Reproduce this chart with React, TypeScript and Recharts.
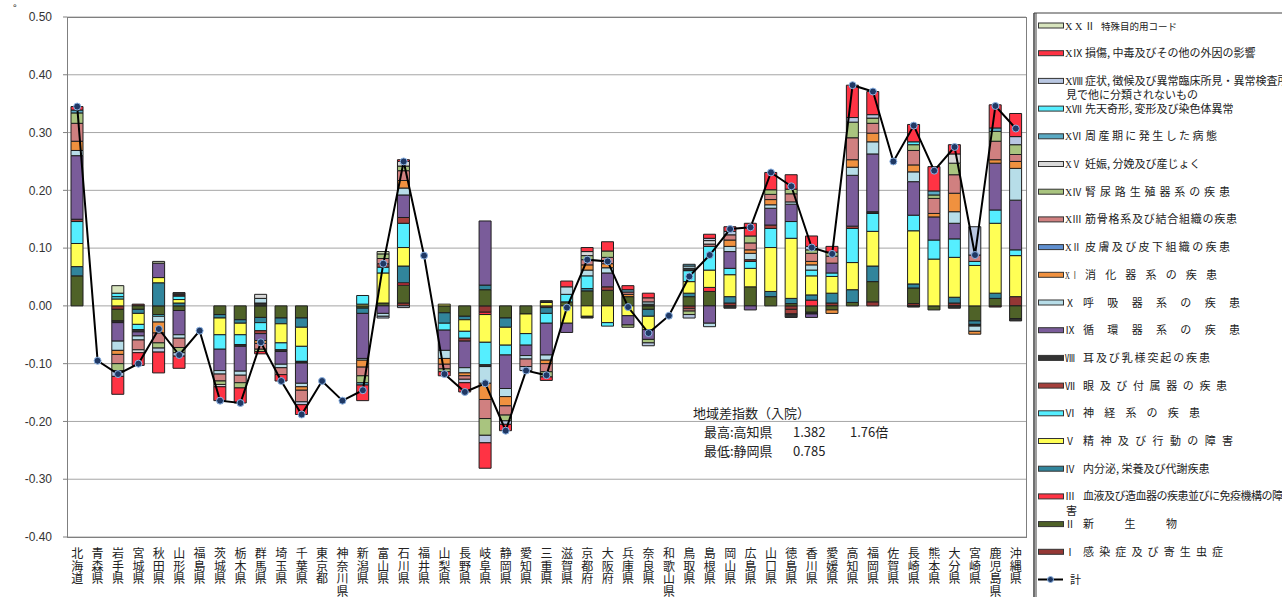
import React from 'react';
import { ComposedChart, Bar, Line, XAxis, YAxis, CartesianGrid } from 'recharts';

const prefectures = [
  '北海道', '青森県', '岩手県', '宮城県', '秋田県', '山形県', '福島県', '茨城県', '栃木県', '群馬県',
  '埼玉県', '千葉県', '東京都', '神奈川県', '新潟県', '富山県', '石川県', '福井県', '山梨県', '長野県',
  '岐阜県', '静岡県', '愛知県', '三重県', '滋賀県', '京都府', '大阪府', '兵庫県', '奈良県', '和歌山県',
  '鳥取県', '島根県', '岡山県', '広島県', '山口県', '徳島県', '香川県', '愛媛県', '高知県', '福岡県',
  '佐賀県', '長崎県', '熊本県', '大分県', '宮崎県', '鹿児島県', '沖縄県',
];

// 疾病分類別の寄与（10県ずつ）
const cI = [
  0, 0, -0.006, 0.003, 0, 0, 0, 0, 0, 0,
  0, 0, 0, 0, 0, 0, 0.005, 0, 0, 0,
  -0.011, 0, 0, -0.003, 0, 0, 0, 0, 0, 0,
  -0.005, 0, 0.005, 0, 0, -0.006, 0, 0.005, 0, 0.007,
  0, 0.004, 0, 0.005, 0, -0.002, 0.016,
];
const cII = [
  0.052, 0, -0.02, -0.006, -0.015, -0.008, 0, -0.015, -0.024, -0.02,
  -0.021, -0.021, 0, 0, -0.004, 0.005, 0.031, 0, -0.012, -0.018,
  0.028, -0.021, -0.014, 0, 0.007, 0.026, 0.027, 0.016, -0.006, 0,
  0.016, 0.025, 0, 0.033, 0.016, 0.004, -0.011, -0.007, 0.006, 0.035,
  0, 0.027, -0.007, 0, -0.026, 0.013, -0.022,
];
const cIII = [
  0, 0, 0, 0, 0, 0, 0, 0, 0, 0,
  0, 0, 0, 0, 0, 0, 0.004, 0, 0, 0,
  -0.004, 0, 0, 0, 0, 0, 0, 0, 0, 0,
  0, 0.007, 0, 0, 0, 0, 0.01, 0, 0, 0,
  0, 0, 0, 0, 0, 0, 0,
];
const cIV = [
  0.016, 0, 0, -0.007, 0.04, 0.005, 0, -0.006, -0.006, -0.009,
  -0.01, -0.016, 0, 0, -0.009, 0, 0.029, 0, -0.018, -0.006,
  0.008, -0.016, 0, -0.01, 0, 0.004, 0, 0, -0.012, 0,
  0.006, 0, 0.011, 0, 0.009, 0.009, 0.009, 0.017, 0.022, 0.027,
  0, 0.007, 0, 0.01, -0.006, 0.009, 0,
];
const cV = [
  0.04, 0, 0.012, -0.019, 0.009, 0.006, 0, -0.029, -0.02, 0,
  -0.033, -0.033, 0, 0, 0.003, 0.052, 0.032, 0, 0.003, -0.02,
  -0.048, -0.031, -0.034, 0.006, -0.03, -0.018, -0.029, -0.017, -0.023, 0,
  0.02, 0.03, 0.038, 0.032, 0.076, 0.104, 0.033, 0.029, 0.047, 0.06,
  0, 0.092, 0.081, 0.069, 0.07, 0.121, 0.071,
];
const cVI = [
  0.038, 0, 0.004, -0.009, -0.003, 0.006, 0, -0.025, -0.017, -0.014,
  -0.012, -0.026, 0, 0, 0.015, 0.01, 0.042, 0, -0.012, -0.012,
  -0.039, -0.017, -0.02, -0.017, 0.013, 0.022, -0.006, 0, 0, 0,
  0.019, 0.041, 0.011, 0.012, 0.033, 0.029, 0.01, 0.006, 0.059, 0.031,
  0, 0.027, 0.033, 0.032, 0.007, 0.023, 0.01,
];
const cVII = [
  0.004, 0, 0, 0, 0, 0.002, 0, 0, 0, -0.005,
  0, 0, 0, 0, 0, 0.006, 0.01, 0, 0, -0.005,
  0, 0, 0, 0, 0, 0, 0.006, 0, 0, 0,
  0, 0, 0, 0.003, 0.006, -0.008, 0, 0, 0.004, 0,
  0, 0, 0, 0, 0, 0, 0,
];
const cVIII = [
  0, 0, -0.003, -0.004, 0, 0.004, 0, 0, -0.003, 0.005,
  -0.003, -0.003, 0, 0, 0, 0, 0, 0, 0, 0,
  -0.003, 0, 0, 0.003, 0, -0.003, 0, 0, 0.003, 0,
  0.004, 0, -0.004, 0, 0, -0.006, -0.003, 0, 0, 0.003,
  0, -0.002, 0, -0.004, -0.003, 0, -0.004,
];
const cIX = [
  0.11, 0, -0.032, -0.007, 0.025, -0.042, 0, -0.037, -0.043, -0.012,
  -0.022, -0.035, 0, 0, -0.078, -0.013, 0.039, 0, -0.035, -0.046,
  0.111, -0.058, -0.018, -0.055, -0.016, 0, 0.024, -0.016, -0.017, 0,
  0, -0.03, 0.029, -0.007, 0.029, 0.03, -0.006, 0.017, 0.088, 0.1,
  0, 0.058, 0.04, 0.027, 0, 0.081, 0.086,
];
const cX = [
  0.009, 0, -0.016, -0.007, -0.01, -0.006, 0, -0.006, -0.007, 0.008,
  -0.006, -0.006, 0, 0, -0.003, -0.005, 0.012, 0, -0.014, -0.009,
  -0.029, -0.014, -0.006, -0.009, 0.013, 0.01, 0.009, 0, 0.004, 0,
  0.004, -0.006, 0.009, 0.011, 0.006, 0.004, 0.009, 0, 0.014, 0.021,
  0, 0.017, 0, 0.02, -0.009, 0, 0.055,
];
const cXI = [
  0.016, 0, -0.007, 0, -0.019, 0, 0, 0, 0, -0.005,
  0, -0.006, 0, 0, -0.012, 0, 0.013, 0, -0.01, -0.005,
  -0.028, -0.016, 0, -0.006, 0, 0.009, 0.007, 0.004, 0, 0,
  0, 0, 0.011, 0.006, 0.009, 0, 0.006, -0.006, 0.013, 0.015,
  0, 0.012, 0.006, 0.032, -0.005, 0.006, 0.012,
];
const cXII = [
  0, 0, 0, 0, 0, 0, 0, 0, 0, 0,
  0, 0, 0, 0, 0, 0, 0, 0, 0, 0,
  0, 0, 0, 0, 0, 0, 0, 0, 0, 0,
  0, 0, 0, 0, 0, 0, 0, 0, 0, 0,
  0, 0, 0, 0, 0, 0, 0,
];
const cXIII = [
  0.031, 0, -0.016, -0.017, -0.017, -0.016, 0, -0.012, -0.013, -0.01,
  -0.012, -0.02, 0, 0, -0.015, 0.009, 0.017, 0, -0.008, -0.006,
  -0.033, -0.016, -0.013, -0.014, 0, 0.009, 0.011, 0.004, 0.007, 0,
  -0.004, 0.004, 0.009, 0.012, 0.009, 0.014, 0.014, 0.012, 0.038, 0.017,
  0, 0.025, 0.026, 0.032, 0.011, 0.032, 0.012,
];
const cXIV = [
  0.018, 0, -0.012, 0, -0.009, -0.009, 0, -0.006, -0.009, -0.004,
  0, 0, 0, 0, -0.012, 0.008, 0.008, 0, -0.005, 0,
  -0.029, -0.01, 0, -0.009, 0, 0.007, 0.011, -0.004, -0.006, 0,
  -0.006, 0, 0, 0.012, 0.008, 0.008, 0.006, 0.007, 0.027, 0.009,
  0, 0.01, 0.006, 0.02, 0, 0.017, 0.017,
];
const cXV = [
  0, 0, 0, -0.005, 0, 0, 0, -0.004, 0, 0.007,
  0, 0, 0, 0, 0, 0, 0.008, 0, 0, 0,
  0, 0, 0, 0, 0, 0.007, 0, 0, 0, 0,
  0, 0.006, 0, 0, 0, 0, 0, 0, 0, 0,
  0, 0, 0, 0.016, 0, 0, 0,
];
const cXVI = [
  0.005, 0, 0, 0, 0, 0, 0, 0, 0, 0,
  0, 0, 0, 0, -0.004, 0, 0, 0, 0, 0,
  0, 0, 0, 0, 0, 0, 0, 0.004, 0, 0,
  0.003, 0, 0, 0, 0, 0, 0, 0, 0, 0,
  0, 0, 0.007, 0, 0, 0.006, 0,
];
const cXVII = [
  0, 0, 0.006, 0, 0, 0, 0, 0, 0, 0,
  0, 0, 0, 0, 0, 0, 0, 0, 0, 0,
  0, 0, 0, 0, 0, 0, 0, 0, 0, 0,
  0, 0, 0, 0, 0, 0, 0, 0, 0, 0,
  0, 0.005, 0, 0, 0, 0, 0,
];
const cXVIII = [
  0, 0, -0.01, 0, -0.007, -0.006, 0, 0, 0, 0,
  0, -0.005, 0, 0, 0, -0.003, -0.003, 0, 0, -0.006,
  -0.013, -0.006, -0.007, 0, 0, 0, 0, 0, -0.005, 0,
  -0.006, 0.004, 0.006, 0, 0, 0, 0.006, 0, 0.008, 0.006,
  0, 0, 0, 0, 0.049, 0, 0.014,
];
const cXIX = [
  0.006, 0, -0.031, -0.022, -0.036, -0.021, 0, -0.024, -0.026, -0.004,
  -0.011, -0.017, 0, 0, -0.027, 0, 0.003, 0, -0.007, -0.016,
  -0.044, -0.011, 0, -0.006, 0.01, 0.007, 0.016, 0.007, 0.008, 0,
  0, 0.007, 0.008, 0.022, 0.03, 0.025, 0.018, 0.01, 0.056, 0.04,
  0, 0.03, 0.042, 0.016, 0, 0.04, 0.04,
];
const cXXII = [
  0, 0, 0.013, 0, 0.003, 0, 0, 0, 0, 0,
  0, 0, 0, 0, 0, 0.004, 0, 0, 0, 0,
  0, 0, 0, 0, 0, 0, 0, 0, 0, 0,
  0, 0, 0, 0, 0, 0, 0, 0, 0, 0,
  0, 0, 0, 0, 0, 0, 0,
];

// 計（地域差指数 − 1）
const totals = [
  0.345, -0.095, -0.118, -0.1, -0.04, -0.085, -0.043, -0.164, -0.168, -0.063,
  -0.13, -0.188, -0.13, -0.164, -0.146, 0.073, 0.25, 0.087, -0.118, -0.149,
  -0.134, -0.216, -0.112, -0.12, -0.003, 0.08, 0.077, -0.002, -0.047, -0.017,
  0.051, 0.088, 0.133, 0.136, 0.231, 0.207, 0.101, 0.09, 0.382, 0.371,
  0.25, 0.312, 0.234, 0.275, 0.088, 0.346, 0.307,
];

const yTicks = [-0.4, -0.3, -0.2, -0.1, 0, 0.1, 0.2, 0.3, 0.4, 0.5];

// stacking order: Ⅰ at the bottom, ⅩⅩⅡ on top
// pre = roman prefix, preLen = squeezed prefix width, bx = body x in legend, len = justified body width
const series = [
  { key: 'I', values: cI, color: '#953735', pre: 'Ⅰ', bx: 53, body: '感染症及び寄生虫症', len: 140 },
  { key: 'II', values: cII, color: '#4f6228', pre: 'Ⅱ', bx: 53, body: '新生物', len: 94 },
  { key: 'III', values: cIII, color: '#ff3344', pre: 'Ⅲ', bx: 53, body: '血液及び造血器の疾患並びに免疫機構の障', len: 200, line2: '害' },
  { key: 'IV', values: cIV, color: '#31859c', pre: 'Ⅳ', bx: 53, body: '内分泌, 栄養及び代謝疾患' },
  { key: 'V', values: cV, color: '#ffff55', pre: 'Ⅴ', bx: 53, body: '精神及び行動の障害', len: 150 },
  { key: 'VI', values: cVI, color: '#55eeff', pre: 'Ⅵ', bx: 53, body: '神経系の疾患', len: 117 },
  { key: 'VII', values: cVII, color: '#a5403c', pre: 'Ⅶ', bx: 53, body: '眼及び付属器の疾患', len: 144 },
  { key: 'VIII', values: cVIII, color: '#333333', pre: 'Ⅷ', bx: 53, body: '耳及び乳様突起の疾患', len: 127 },
  { key: 'IX', values: cIX, color: '#7a5c9a', pre: 'Ⅸ', bx: 53, body: '循環器系の疾患', len: 157 },
  { key: 'X', values: cX, color: '#b7dde8', pre: 'Ⅹ', bx: 53, body: '呼吸器系の疾患', len: 157 },
  { key: 'XI', values: cXI, color: '#f0913f', pre: 'X Ⅰ', preLen: 13, bx: 55, body: '消化器系の疾患', len: 132 },
  { key: 'XII', values: cXII, color: '#5f8fd0', pre: 'XⅡ', preLen: 16, bx: 55, body: '皮膚及び皮下組織の疾患', len: 145 },
  { key: 'XIII', values: cXIII, color: '#d08080', pre: 'XⅢ', preLen: 17, bx: 55, body: '筋骨格系及び結合組織の疾患', len: 152 },
  { key: 'XIV', values: cXIV, color: '#a9c47f', pre: 'XⅣ', preLen: 17, bx: 55, body: '腎尿路生殖器系の疾患', len: 145 },
  { key: 'XV', values: cXV, color: '#d9d9d9', pre: 'XⅤ', preLen: 16, bx: 55, body: '妊娠, 分娩及び産じょく' },
  { key: 'XVI', values: cXVI, color: '#5aaac4', pre: 'XⅥ', preLen: 17, bx: 55, body: '周産期に発生した病態', len: 132 },
  { key: 'XVII', values: cXVII, color: '#55eeff', pre: 'XⅦ', preLen: 17, bx: 55, body: '先天奇形, 変形及び染色体異常' },
  { key: 'XVIII', values: cXVIII, color: '#b9c7e2', pre: 'XⅧ', preLen: 18, bx: 55, body: '症状, 徴候及び異常臨床所見・異常検査所', line2: '見で他に分類されないもの' },
  { key: 'XIX', values: cXIX, color: '#ff3344', pre: 'XⅨ', preLen: 18, bx: 55, body: '損傷, 中毒及びその他の外因の影響' },
  { key: 'XXII', values: cXXII, color: '#d7e4bd', pre: 'X X Ⅱ', preLen: 30, bx: 71, body: '特殊目的用コード', fs: 9.5 },
];

const data = prefectures.map((name, i) => {
  const row: Record<string, any> = { name, total: totals[i] };
  series.forEach((s) => { row[s.key] = s.values[i]; });
  return row;
});

const CJK = "'Noto Sans CJK JP', 'Noto Sans', sans-serif";
const SERIF = "'Liberation Serif', 'Noto Sans CJK JP', serif";

const PrefTick = (props: any) => {
  const { x, y, payload } = props;
  const chars = Array.from(String(payload.value));
  return (
    <text textAnchor="middle" fontSize={12} fill="#222" fontFamily={CJK}>
      {chars.map((c, i) => (
        <tspan key={i} x={x} y={y + 13 + i * 12.5}>{c}</tspan>
      ))}
    </text>
  );
};

const Legend = () => {
  const items = [...series].reverse();
  return (
    <svg width={252} height={597} style={{ position: 'absolute', left: 1030, top: 0 }}>
      <line x1={4} y1={13} x2={252} y2={13} stroke="#404040" strokeWidth={1} />
      <line x1={4} y1={13} x2={4} y2={597} stroke="#404040" strokeWidth={1.5} />
      <line x1={6} y1={13} x2={6} y2={597} stroke="#404040" strokeWidth={1} />
      {items.map((s, i) => {
        const cy = 25.5 + i * 27.7;
        return (
          <g key={s.key}>
            <rect x={8.5} y={cy - 2.5} width={25} height={5} fill={s.color} stroke="#333" strokeWidth={1} />
            <text
              x={35}
              y={cy + 4}
              fontSize={10}
              fill="#222"
              fontFamily={SERIF}
              {...(s.preLen ? { textLength: s.preLen, lengthAdjust: 'spacingAndGlyphs' } : {})}
            >
              {s.pre}
            </text>
            <text
              x={s.bx}
              y={cy + 4}
              fontSize={s.fs ?? 11}
              fill="#222"
              fontFamily={CJK}
              {...(s.len ? { textLength: s.len, lengthAdjust: 'spacing' } : {})}
            >
              {s.body}
            </text>
            {s.line2 && (
              <text x={36} y={cy + 18.5} fontSize={11} fill="#222" fontFamily={CJK}>{s.line2}</text>
            )}
          </g>
        );
      })}
      <line x1={8} y1={579.5} x2={33} y2={579.5} stroke="#000" strokeWidth={2} />
      <circle cx={20.5} cy={579.5} r={3} fill="#1f3864" stroke="#8eb4e3" strokeWidth={1} />
      <text x={40} y={583.5} fontSize={11} fill="#222" fontFamily={CJK}>計</text>
    </svg>
  );
};

const note: React.CSSProperties = { position: 'absolute', fontSize: 13, lineHeight: '18px', color: '#222', fontFamily: CJK, whiteSpace: 'nowrap' };

export default function App() {
  return (
    <div style={{ position: 'absolute', left: 0, top: 0, width: 1282, height: 597, background: '#fff', overflow: 'hidden' }}>
      <span style={{ position: 'absolute', left: 13, top: 0, fontSize: 10, color: '#333', fontFamily: CJK }}>°</span>
      <ComposedChart
        width={1030}
        height={597}
        data={data}
        stackOffset="sign"
        barSize={12}
        margin={{ top: 17, right: 4, bottom: 0, left: 0 }}
      >
        <CartesianGrid vertical={false} stroke="#a6a6a6" />
        <XAxis
          dataKey="name"
          interval={0}
          height={60}
          axisLine={false}
          tickLine={false}
          tick={<PrefTick />}
        />
        <YAxis
          domain={[-0.4, 0.5]}
          ticks={yTicks}
          allowDataOverflow
          width={67}
          axisLine={false}
          tickLine={{ stroke: '#808080' }}
          tickSize={4}
          tickMargin={11}
          tickFormatter={(v: number) => v.toFixed(2)}
          tick={{ fontSize: 12, fill: '#333', fontFamily: "'Liberation Sans', Arial, sans-serif" }}
        />
        {series.map((s) => (
          <Bar
            key={s.key}
            dataKey={s.key}
            stackId="a"
            fill={s.color}
            stroke="#1e1e1e"
            strokeWidth={1}
            isAnimationActive={false}
          />
        ))}
        <Line
          dataKey="total"
          stroke="#000"
          strokeWidth={2}
          dot={{ r: 3.5, fill: '#1f3864', stroke: '#8eb4e3', strokeWidth: 1 }}
          isAnimationActive={false}
        />
      </ComposedChart>
      <div
        style={{
          position: 'absolute', left: 67, top: 17, width: 960, height: 521,
          boxSizing: 'border-box', border: '1px solid #7f7f7f', pointerEvents: 'none',
        }}
      />
      <span style={{ ...note, left: 693, top: 404 }}>地域差指数（入院）</span>
      <span style={{ ...note, left: 704, top: 423 }}>最高:高知県</span>
      <span style={{ ...note, left: 793, top: 423 }}>1.382</span>
      <span style={{ ...note, left: 850, top: 423 }}>1.76倍</span>
      <span style={{ ...note, left: 704, top: 442 }}>最低:静岡県</span>
      <span style={{ ...note, left: 793, top: 442 }}>0.785</span>
      <Legend />
    </div>
  );
}
